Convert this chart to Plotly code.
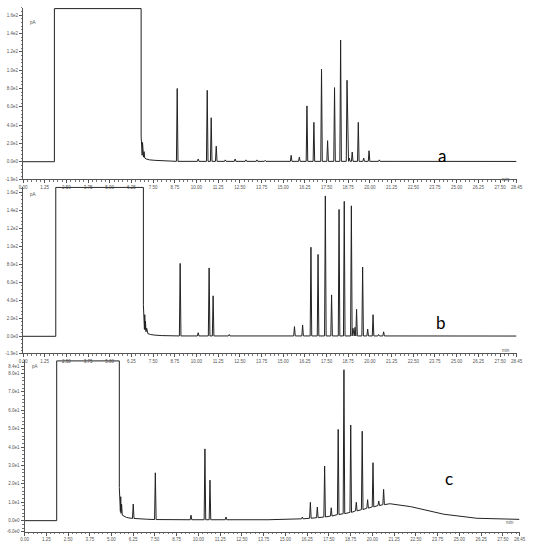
import plotly.graph_objects as go

W, H = 541, 550

# ---------------- Panel a ----------------
a_solvent_t = [0.0, 1.81, 1.81, 6.81, 6.81]
a_solvent_y = [0.0, 0.0, 167.3, 167.3, 28.0]
a_grass_t = [6.83, 6.85, 6.87, 6.89, 6.91, 6.93, 6.95, 6.98, 7.02, 7.10, 7.30, 7.60, 8.00, 8.60]
a_grass_y = [9, 25, 7, 21, 6, 16, 5, 11, 4, 3, 2, 1.5, 1.2, 0.8]
a_peak_t = [8.89, 10.10, 10.62, 10.85, 11.14, 11.66, 12.23, 12.85, 13.49, 13.96,
            15.46, 15.93, 16.37, 16.77, 17.21, 17.56, 17.96, 18.31, 18.68, 18.81,
            18.98, 19.33, 19.64, 19.95, 20.54]
a_peak_h = [80, 3, 78, 48, 17, 2, 3, 2, 2, 1.5,
            7, 5, 61, 43, 101, 23, 81, 133, 89, 4,
            10.6, 43, 4, 12, 2]
a_base = 0.4
a_tail_t = [28.45]
a_tail_y = [0.3]

# ---------------- Panel b ----------------
b_solvent_t = [0.0, 1.89, 1.89, 6.94, 6.94]
b_solvent_y = [0.0, 0.0, 165.5, 165.5, 35.0]
b_grass_t = [6.96, 6.98, 7.00, 7.02, 7.04, 7.06, 7.09, 7.13, 7.20, 7.35, 7.60, 8.00]
b_grass_y = [10, 30, 8, 24, 7, 17, 5, 9, 3, 2, 1.3, 0.8]
b_peak_t = [9.06, 10.10, 10.73, 10.96, 11.89, 15.65, 16.12, 16.60, 17.01, 17.43,
            17.79, 18.22, 18.52, 18.93, 19.02, 19.14, 19.23, 19.58, 19.87, 20.18,
            20.50, 20.79]
b_peak_h = [81, 4, 76, 45, 2, 10.8, 12.6, 99, 91, 156,
            46, 141, 150, 145, 9, 10, 30, 77, 8, 24,
            2, 5]
b_base = 0.4
b_tail_t = [28.45]
b_tail_y = [0.3]

# ---------------- Panel c ----------------
c_solvent_t = [0.0, 1.85, 1.85, 5.45, 5.45]
c_solvent_y = [0.0, 0.0, 86.8, 86.8, 18.0]
c_grass_t = [5.47, 5.49, 5.51, 5.53, 5.55, 5.58, 5.62, 5.70, 5.85, 6.00]
c_grass_y = [6, 16, 5, 13, 4, 9, 3, 2.5, 1.8, 1.5]
c_peak_t = [6.25, 7.52, 9.57, 10.37, 10.66, 11.58, 15.97, 16.43, 16.83, 17.25,
            17.63, 18.03, 18.36, 18.75, 19.07, 19.41, 19.72, 20.03, 20.36, 20.64]
c_peak_h = [9, 26, 3, 39, 22, 2, 2, 10, 7.4, 29.7,
            7, 49.6, 82, 52, 10, 48.6, 11.4, 31.5, 10.7, 17]
c_peak_foot = [1.2, 0.6, 0.5, 0.5, 0.5, 0.5, 1.0, 1.3, 1.6, 2.0,
               2.5, 3.3, 3.8, 4.5, 5.3, 6.0, 6.8, 7.5, 8.2, 8.7]
c_tail_t = [7.0, 10.0, 14.0, 15.0, 21.0, 22.2, 24.1, 26.0, 28.45]
c_tail_y = [0.8, 0.5, 0.5, 0.7, 9.2, 7.6, 3.5, 1.3, 0.7]

x_tick_vals = [0.0, 1.25, 2.5, 3.75, 5.0, 6.25, 7.5, 8.75, 10.0, 11.25, 12.5, 13.75,
               15.0, 16.25, 17.5, 18.75, 20.0, 21.25, 22.5, 23.75, 25.0, 26.25, 27.5, 28.45]
x_tick_text = ["%.2f" % v for v in x_tick_vals]

ab_y_vals = [-19, 0, 20, 40, 60, 80, 100, 120, 140, 160]
ab_y_text = ["-1.9e1", "0.0e0", "2.0e1", "4.0e1", "6.0e1", "8.0e1", "1.0e2", "1.2e2", "1.4e2", "1.6e2"]
c_y_vals = [-6, 0, 10, 20, 30, 40, 50, 60, 70, 80, 84]
c_y_text = ["-6.0e0", "0.0e0", "1.0e1", "2.0e1", "3.0e1", "4.0e1", "5.0e1", "6.0e1", "7.0e1", "8.0e1", "8.4e1"]


def build(lead_t, lead_y, grass_t, grass_y, peak_t, peak_h, feet, tail_t, tail_y, hw=0.045):
    pts = list(zip(lead_t, lead_y)) + list(zip(grass_t, grass_y))
    rest = []
    for t, h, f in zip(peak_t, peak_h, feet):
        rest += [(t - hw, f), (t, h), (t + hw, f)]
    rest += list(zip(tail_t, tail_y))
    rest.sort(key=lambda p: p[0])
    pts += rest
    return [p[0] for p in pts], [p[1] for p in pts]


ax, ay = build(a_solvent_t, a_solvent_y, a_grass_t, a_grass_y, a_peak_t, a_peak_h,
               [a_base] * len(a_peak_t), a_tail_t, a_tail_y)
bx, by = build(b_solvent_t, b_solvent_y, b_grass_t, b_grass_y, b_peak_t, b_peak_h,
               [b_base] * len(b_peak_t), b_tail_t, b_tail_y)
cx, cy = build(c_solvent_t, c_solvent_y, c_grass_t, c_grass_y, c_peak_t, c_peak_h,
               c_peak_foot, c_tail_t, c_tail_y)

line_col = "#222222"
fig = go.Figure()
fig.add_trace(go.Scatter(x=ax, y=ay, mode="lines", line=dict(color=line_col, width=1),
                         xaxis="x", yaxis="y", showlegend=False, hoverinfo="skip"))
fig.add_trace(go.Scatter(x=bx, y=by, mode="lines", line=dict(color=line_col, width=1),
                         xaxis="x2", yaxis="y2", showlegend=False, hoverinfo="skip"))
fig.add_trace(go.Scatter(x=cx, y=cy, mode="lines", line=dict(color=line_col, width=1),
                         xaxis="x3", yaxis="y3", showlegend=False, hoverinfo="skip"))


def px_x(p):
    return min(1.0, max(0.0, p / W))


def px_y(p):
    return min(1.0, max(0.0, 1 - p / H))


tick_font = dict(family="Liberation Sans, Arial, sans-serif", size=4.5, color="#555555")


def xaxis(domain, anchor):
    return dict(domain=domain, anchor=anchor, range=[0, 28.45], tickmode="array",
                tickvals=x_tick_vals, ticktext=x_tick_text, showline=True,
                linecolor="#555555", linewidth=1, ticks="outside", ticklen=3,
                tickcolor="#555555", tickfont=tick_font, showgrid=False, zeroline=False,
                automargin=False,
                minor=dict(dtick=0.25, tick0=0, ticks="outside", ticklen=1.5,
                           tickcolor="#777777", showgrid=False))


def yaxis(domain, anchor, rng, vals, text, mdt):
    return dict(domain=domain, anchor=anchor, range=rng, tickmode="array",
                tickvals=vals, ticktext=text, showline=True, linecolor="#555555",
                linewidth=1, ticks="outside", ticklen=3, tickcolor="#555555",
                tickfont=tick_font, showgrid=False, zeroline=False, automargin=False,
                minor=dict(dtick=mdt, tick0=0, ticks="outside", ticklen=1.5,
                           tickcolor="#777777", showgrid=False))


xa_dom = [px_x(23), px_x(516.5)]
xc_dom = [px_x(24.5), px_x(519.5)]

fig.update_layout(
    width=W, height=H, margin=dict(l=0, r=0, t=0, b=0, autoexpand=False),
    paper_bgcolor="white", plot_bgcolor="white",
    xaxis=xaxis(xa_dom, "y"),
    yaxis=yaxis([px_y(179.1), px_y(7.5)], "x", [-19, 168.5], ab_y_vals, ab_y_text, 4),
    xaxis2=xaxis(xa_dom, "y2"),
    yaxis2=yaxis([px_y(353.4), px_y(186.5)], "x2", [-19, 166.5], ab_y_vals, ab_y_text, 4),
    xaxis3=xaxis(xc_dom, "y3"),
    yaxis3=yaxis([px_y(531.7), px_y(360.0)], "x3", [-6, 87.3], c_y_vals, c_y_text, 2),
)

small = dict(family="Liberation Sans, Arial, sans-serif", size=4.5, color="#555555")
big = dict(family="Lato, Liberation Sans, sans-serif", size=17, color="black")
ann = []
for (x, y) in [(28, 18), (28, 195), (30, 371)]:
    ann.append(dict(x=px_x(x), y=px_y(y), xref="paper", yref="paper", text="pA",
                    showarrow=False, font=small))
for (x, y) in [(512, 175), (512, 350), (516, 527)]:
    ann.append(dict(x=px_x(x), y=px_y(y), xref="paper", yref="paper", text="min",
                    showarrow=False, font=small))
for (x, y, t) in [(448, 143, "a"), (448, 322, "b"), (455, 491, "c")]:
    ann.append(dict(x=px_x(x), y=px_y(y), xref="paper", yref="paper", text=t,
                    showarrow=False, font=big))
fig.update_layout(annotations=ann)

# remove the default 8px page margin so the 541x550 figure fills the window exactly
fig.write_html("out.html", config={"displayModeBar": False},
               post_script="document.body.style.margin='0px';")
